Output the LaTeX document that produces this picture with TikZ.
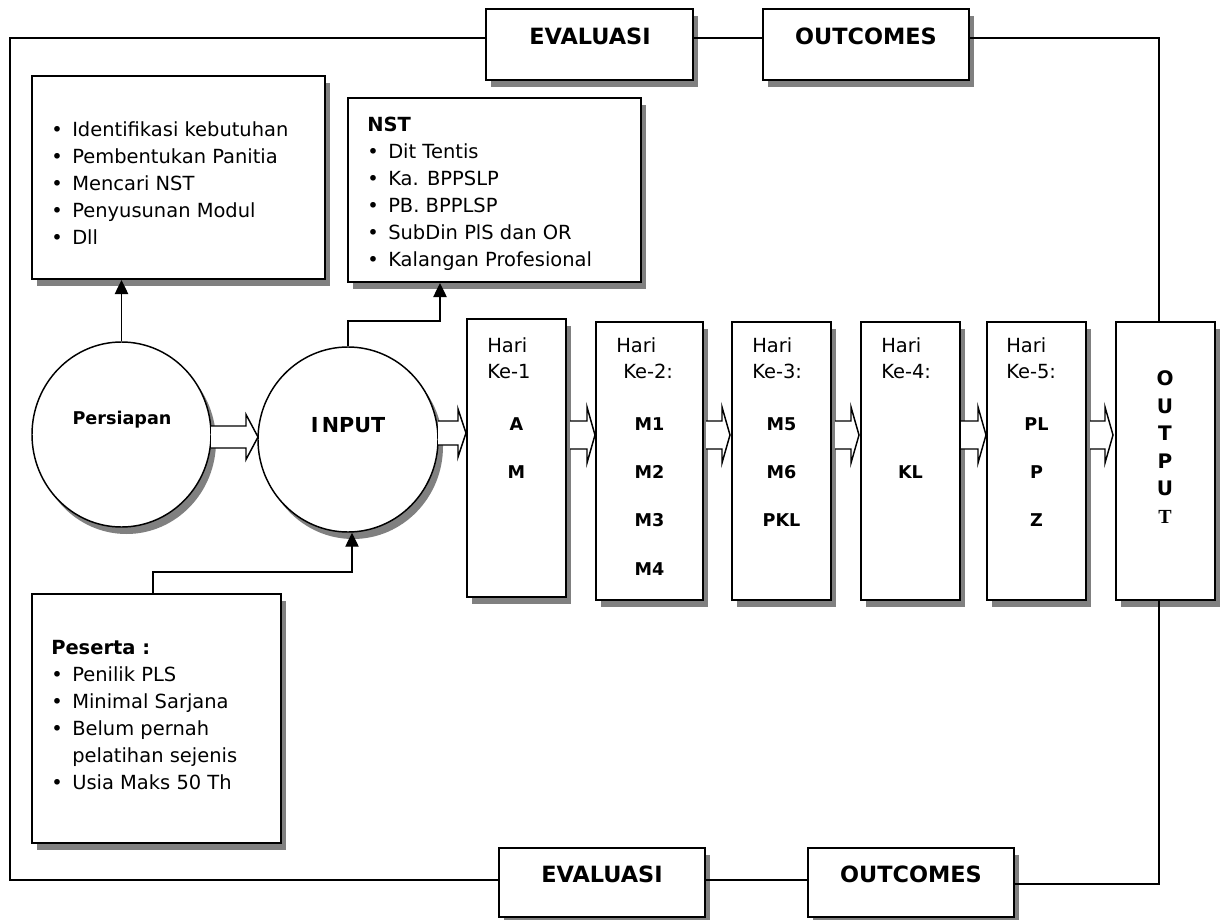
\documentclass[tikz,border=0pt]{standalone}
\usepackage{fontspec}
\setmainfont{DejaVu Sans}
\newfontfamily\timesf{Liberation Serif}
\usetikzlibrary{shadows,fit,arrows.meta,shapes.geometric}
\definecolor{shgray}{RGB}{128,128,128}
\newcommand\bodyf{\fontsize{14.6}{20.25}\selectfont}
\newcommand\itemf{\fontsize{13.2}{36.3}\selectfont\bfseries}
\newcommand\bul{\makebox[15.75pt][l]{•}}
\newcommand\blockarr[6]{\draw[blk] (#1,#3-#4) -- (#2-#6,#3-#4) -- (#2-#6,#3-#5) -- (#2,#3) -- (#2-#6,#3+#5) -- (#2-#6,#3+#4) -- (#1,#3+#4);}
\begin{document}
\begin{tikzpicture}[x=0.75pt,y=-0.75pt,
  shad/.style={drop shadow={shadow xshift=3.75pt,shadow yshift=-5.25pt,fill=shgray,opacity=1}},
  box/.style={draw, line width=1.5pt, fill=white, inner sep=0pt, shad},
  oval/.style={ellipse, draw, line width=1.1pt, fill=white, inner sep=0pt, shad},
  blk/.style={draw, line width=1.1pt, fill=white, line join=miter},
  conn/.style={line width=1pt},
  arr/.style={-{Triangle[width=10pt,length=10.5pt]}},
  txt/.style={inner sep=0pt, align=left, font=\bodyf},
  ctxt/.style={inner sep=0pt, align=center},
  title/.style={inner sep=0pt, font=\fontsize{16.8}{20}\selectfont\bfseries}
]
\useasboundingbox (0,0) rectangle (1220,920);

% frame corner coordinates
\coordinate (fTL) at (10,38);
\coordinate (fBL) at (10,880);
\coordinate (fTR) at (1159,38);
\coordinate (fBR) at (1159,884);
\coordinate (k1) at (440,321);
\coordinate (k2) at (153,572);
\coordinate (k3) at (352,572);

% boxes
\node[box, fit={(486,9) (693,80)}] (evT) {};
\node[box, fit={(763,9) (969,80)}] (ocT) {};
\node[box, fit={(32,76) (325,279)}] (prep) {};
\node[box, fit={(348,98) (641,282)}] (nst) {};
\node[box, fit={(32,594) (281,843)}] (pes) {};
\node[box, fit={(499,848) (705,917)}] (evB) {};
\node[box, fit={(808,848) (1014,917)}] (ocB) {};
\node[box, fit={(467,319) (566,597)}] (d1) {};
\node[box, fit={(596,322) (703,600)}] (d2) {};
\node[box, fit={(732,322) (831,600)}] (d3) {};
\node[box, fit={(861,322) (960,600)}] (d4) {};
\node[box, fit={(987,322) (1086,600)}] (d5) {};
\node[box, fit={(1116,322) (1215,600)}] (outp) {};

% ellipses
\node[oval, minimum width=134.25pt, minimum height=138.75pt] (pers) at (121.5,434.5) {};
\node[oval, minimum width=135pt, minimum height=138.75pt] (inp) at (348,439.5) {};

% texts (base anchor = baseline of the last line)
\node[title, anchor=base] (evTt) at (590,45) {EVALUASI};
\node[title, anchor=base] (ocTt) at (866,45) {OUTCOMES};
\node[title, anchor=base] (evBt) at (602,882) {EVALUASI};
\node[title, anchor=base] (ocBt) at (911,882) {OUTCOMES};

\node[txt, anchor=base west] (prepT) at (51,244) {\bul Identifikasi kebutuhan\\\bul Pembentukan Panitia\\\bul Mencari NST\\\bul Penyusunan Modul\\\bul Dll};
\node[txt, anchor=base west] (nstT) at (367,266) {\textbf{NST}\\\bul Dit Tentis\\\bul Ka. BPPSLP\\\bul PB. BPPLSP\\\bul SubDin PlS dan OR\\\bul Kalangan Profesional};
\node[txt, anchor=base west] (pesT) at (51,789) {\textbf{Peserta :}\\\bul Penilik PLS\\\bul Minimal Sarjana\\\bul Belum pernah\\\hspace*{15.75pt}pelatihan sejenis\\\bul Usia Maks 50 Th};

\node[ctxt, anchor=base, font=\fontsize{13.2}{16}\selectfont\bfseries] (persT) at (122,424) {Persiapan};
\node[ctxt, anchor=base, font=\fontsize{15.5}{18}\selectfont\bfseries] (inpT) at (348,432) {I\,NPUT};

\node[txt, anchor=base west, font=\fontsize{14.6}{19.5}\selectfont] (h1) at (487,378) {Hari\\Ke-1};
\node[txt, anchor=base west, font=\fontsize{14.6}{19.5}\selectfont] (h2) at (616,378) {Hari\\\hspace*{5.25pt}Ke-2:};
\node[txt, anchor=base west, font=\fontsize{14.6}{19.5}\selectfont] (h3) at (752,378) {Hari\\Ke-3:};
\node[txt, anchor=base west, font=\fontsize{14.6}{19.5}\selectfont] (h4) at (881,378) {Hari\\Ke-4:};
\node[txt, anchor=base west, font=\fontsize{14.6}{19.5}\selectfont] (h5) at (1006,378) {Hari\\Ke-5:};

\node[ctxt, anchor=base, font=\itemf] (i1) at (516.5,478.4) {A\\M};
\node[ctxt, anchor=base, font=\itemf] (i2) at (649.5,575.2) {M1\\M2\\M3\\M4};
\node[ctxt, anchor=base, font=\itemf] (i3) at (781.5,526.8) {M5\\M6\\PKL};
\node[ctxt, anchor=base, font=\itemf] (i4) at (910.5,478) {KL};
\node[ctxt, anchor=base, font=\itemf] (i5) at (1036.5,526.8) {PL\\P\\Z};
\node[ctxt, anchor=base, font=\fontsize{15}{20.6}\selectfont\bfseries] (outT) at (1165,523.3) {O\\U\\T\\P\\U\\{\timesf\bfseries T}};

% frame connectors
\draw[conn] (evT.west |- fTL) -- (fTL) -- (fBL) -- (evB.west |- fBL);
\draw[conn] (evT.east |- fTL) -- (ocT.west |- fTL);
\draw[conn] (ocT.east |- fTR) -- (fTR) -- (outp.north -| fTR);
\draw[conn] (evB.east |- fBL) -- (ocB.west |- fBL);
\draw[conn] (ocB.east |- fBR) -- (fBR) -- (outp.south -| fBR);

% arrows
\draw[conn, arr] (pers.north) -- (prep.south -| pers.north);
\draw[conn, arr] (inp.north) |- (k1) -- (k1 |- nst.south);
\draw[conn, arr] (k2 |- pes.north) -- (k2) -- (k3) -- (k3 |- inp.south);

% block arrows
\blockarr{211}{258}{437}{11}{22.5}{12}
\blockarr{438}{466}{433}{12}{24}{8}
\blockarr{570}{595}{435}{14}{28}{8}
\blockarr{706}{730}{435}{14}{28}{8}
\blockarr{835}{859}{435}{14}{28}{8}
\blockarr{961}{986}{435}{14}{28}{8}
\blockarr{1090}{1113}{435}{14}{28}{8}
\end{tikzpicture}
\end{document}
